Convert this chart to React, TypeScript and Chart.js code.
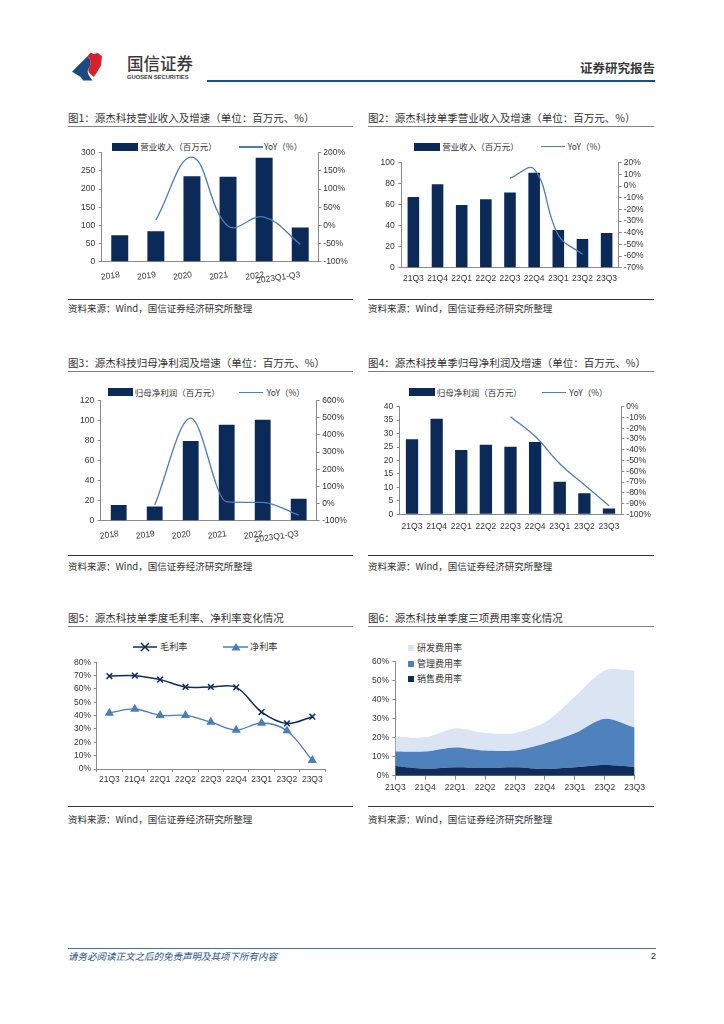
import React, { useEffect, useRef } from 'react';
import { Chart, registerables } from 'chart.js';
Chart.register(...registerables);

// ---------- data ----------
const yearLabels = ['2018', '2019', '2020', '2021', '2022', '2023Q1-Q3'];
const revenueAnnual = [73, 84, 235, 234, 286, 94];
const revenueAnnualYoY = [null, 15, 188, -2, 23, -52];

const quarterLabels = ['21Q3', '21Q4', '22Q1', '22Q2', '22Q3', '22Q4', '23Q1', '23Q2', '23Q3'];
const revenueQuarter = [67.3, 79.4, 59.7, 65.1, 71.7, 90.5, 35.9, 27.3, 33.0];
const revenueQuarterYoY = [null, null, null, null, 6.6, 14.5, -42, -58.5, null];

const profitAnnual = [15.7, 14.3, 79.7, 96, 101, 22];
const profitAnnualYoY = [null, -9, 498, 10, 7, -67];

const profitQuarter = [27.9, 35.5, 23.9, 25.9, 25.1, 26.9, 12.1, 7.8, 2.2];
const profitQuarterYoY = [null, null, null, null, -9.3, -27.5, -53, -72.5, -92];

const grossMargin = [69.7, 70, 67, 61.5, 61.5, 61.2, 42.7, 34.2, 39.2];
const netMargin = [42, 45, 40.2, 40.2, 35.2, 29.2, 34.5, 28.7, 6.5];

const sellingRate = [5.1, 3.7, 4.4, 4.0, 4.4, 3.5, 4.4, 5.6, 4.6];
const adminRate = [7.7, 9.1, 10.5, 9.2, 8.9, 13.5, 17.9, 24.4, 20.8];
const rdRate = [7.7, 7.4, 10.0, 9.3, 9.2, 11.1, 19.3, 25.4, 30.0];

// ---------- styles ----------
const CJK = '"Noto Sans CJK SC","Noto Sans",sans-serif';
const NUM = '"Liberation Sans Narrow","Liberation Sans",Arial,sans-serif';
const BAR = '#0b2a58';
const LINE = '#4a7ebb';
const NAVY = '#0f2d5c';
const AXIS = '#8a8a8a';
const TXT = '#333333';
const tickFont = { family: NUM, size: 8.5 };

const pct = (v: any) => v + '%';

function yAxis(pos: 'left' | 'right', min: number, max: number, step: number, width: number, isPct: boolean, pad = 3) {
  return {
    position: pos,
    min,
    max,
    grid: { display: true, drawOnChartArea: false, drawTicks: true, tickLength: 3, color: AXIS, tickColor: AXIS },
    border: { display: true, color: AXIS, width: 1 },
    ticks: { stepSize: step, autoSkip: false, font: tickFont, color: TXT, padding: pad, callback: isPct ? pct : (v: any) => v },
    afterFit: (s: any) => { s.width = width; },
  };
}

function xCat(height: number, opts: any = {}) {
  return {
    grid: { display: false, drawTicks: false },
    border: { display: true, color: AXIS, width: 1 },
    ticks: { font: tickFont, color: TXT, autoSkip: false, padding: 6, maxRotation: 0, minRotation: 0, ...opts },
    afterFit: (s: any) => { s.height = height; },
  };
}

function comboConfig(labels: string[], bars: number[], yoy: (number | null)[], barPct: number,
  left: any, right: any, x: any, padTop: number, mode = 'default') {
  return {
    type: 'bar',
    data: {
      labels,
      datasets: [
        { type: 'line', data: yoy, yAxisID: 'y1', borderColor: LINE, backgroundColor: LINE, borderWidth: 1.3, pointRadius: 0, tension: 0.4, cubicInterpolationMode: mode, order: 0 },
        { type: 'bar', data: bars, yAxisID: 'y', backgroundColor: BAR, categoryPercentage: 1, barPercentage: barPct, order: 1 },
      ],
    },
    options: {
      responsive: false, animation: false, devicePixelRatio: 1,
      layout: { padding: { top: padTop, left: 0, right: 0, bottom: 0 } },
      plugins: { legend: { display: false }, tooltip: { enabled: false } },
      scales: { x, y: left, y1: right },
    },
  };
}

// ---------- components ----------
function ChartBox({ left, top, width, height, make }: any) {
  const ref = useRef<HTMLCanvasElement>(null);
  useEffect(() => {
    const c = new Chart(ref.current as any, make());
    let alive = true;
    (document as any).fonts?.ready?.then(() => { if (alive) c.update(); });
    return () => { alive = false; c.destroy(); };
  }, []);
  return (
    <div style={{ position: 'absolute', left, top, width, height }}>
      <canvas ref={ref} width={width} height={height} style={{ width, height, display: 'block' }} />
    </div>
  );
}

function Txt({ x, y, size, children, color = TXT, weight = 400, italic = false, family = CJK, right = false, spacing = 0 }: any) {
  const lh = size * 1.3;
  const st: any = {
    position: 'absolute', top: y - lh / 2, fontSize: size, lineHeight: lh + 'px', height: lh,
    whiteSpace: 'nowrap', color, fontWeight: weight, fontStyle: italic ? 'italic' : 'normal', fontFamily: family,
    letterSpacing: spacing,
  };
  if (right) st.right = 724 - x; else st.left = x;
  return <div style={st}>{children}</div>;
}

function Rect({ x, y, w, h, c }: any) {
  return <div style={{ position: 'absolute', left: x, top: y, width: w, height: h, background: c }} />;
}

function BarLineLegend({ x1, x2, text1, lx, tx2, cy }: any) {
  return (
    <>
      <Rect x={x1} y={cy - 4} w={x2 - x1} h={8} c={BAR} />
      <Txt x={x2 + 2} y={cy} size={8.5}>{text1}</Txt>
      <Rect x={lx} y={cy - 0.7} w={24} h={1.4} c={LINE} />
      <Txt x={tx2} y={cy} size={8.5}>YoY（%）</Txt>
    </>
  );
}

export default function App() {
  return (
    <div style={{ position: 'absolute', left: 0, top: 0, width: 724, height: 1024, background: '#fff', overflow: 'hidden', fontFamily: CJK }}>
      {/* header */}
      <svg style={{ position: 'absolute', left: 72, top: 52 }} width={31} height={29} viewBox="0 0 30 28">
        <path d="M0,19 L15,4 C19,8 19,12 16,16 C14,19 16,23 20,27.5 L11,27.5 L8,24 Z" fill="#1b4a80" />
        <path d="M15,4 L18,0.5 L21,2 L25,1 L29,4 L28,13 L24,20 L21,24 C17,21 15,19 16,16 C19,12 19,8 15,4 Z" fill="#d7202a" />
      </svg>
      <Txt x={127} y={64} size={16.5} weight={500} color="#3a3a3a">国信证券</Txt>
      <Txt x={127} y={77.3} size={5.8} weight={700} family={NUM} color="#3a3a3a">GUOSEN SECURITIES</Txt>
      <Rect x={207} y={80} w={448} h={2} c="#1d4f80" />
      <Txt x={655} y={68.3} size={12.5} weight={700} right color="#3a3a3a">证券研究报告</Txt>

      {/* titles */}
      <Txt x={68} y={118} size={10.5}>图1：源杰科技营业收入及增速（单位：百万元、%）</Txt>
      <Txt x={368} y={118} size={10.5}>图2：源杰科技单季营业收入及增速（单位：百万元、%）</Txt>
      <Txt x={68} y={363.3} size={10.5}>图3：源杰科技归母净利润及增速（单位：百万元、%）</Txt>
      <Txt x={368} y={363.3} size={10.5}>图4：源杰科技单季归母净利润及增速（单位：百万元、%）</Txt>
      <Txt x={68} y={618.3} size={10.5}>图5：源杰科技单季度毛利率、净利率变化情况</Txt>
      <Txt x={368} y={618.3} size={10.5}>图6：源杰科技单季度三项费用率变化情况</Txt>
      {[126, 371, 626].map((y) => (
        <React.Fragment key={'t' + y}>
          <Rect x={68} y={y} w={285} h={1} c="#7f7f7f" />
          <Rect x={368} y={y} w={286} h={1} c="#7f7f7f" />
        </React.Fragment>
      ))}

      {/* sources */}
      {[[299, 308.3], [555, 566], [806, 819.3]].map(([ly, ty]) => (
        <React.Fragment key={'s' + ly}>
          <Rect x={68} y={ly} w={285} h={1} c="#333" />
          <Rect x={368} y={ly} w={286} h={1} c="#333" />
          <Txt x={68} y={ty} size={9.5}>资料来源：Wind，国信证券经济研究所整理</Txt>
          <Txt x={368} y={ty} size={9.5}>资料来源：Wind，国信证券经济研究所整理</Txt>
        </React.Fragment>
      ))}

      {/* legends */}
      <BarLineLegend x1={111.7} x2={138.3} text1="营业收入（百万元）" lx={239} tx2={264} cy={147} />
      <BarLineLegend x1={413.7} x2={440.3} text1="营业收入（百万元）" lx={541} tx2={567.7} cy={146.7} />
      <BarLineLegend x1={107.7} x2={132.7} text1="归母净利润（百万元）" lx={239} tx2={266.7} cy={392.3} />
      <BarLineLegend x1={408.7} x2={434.7} text1="归母净利润（百万元）" lx={542} tx2={569.3} cy={392.3} />

      <svg style={{ position: 'absolute', left: 133, top: 641 }} width={26} height={12}>
        <line x1={0} y1={6} x2={24} y2={6} stroke={NAVY} strokeWidth={1.5} />
        <path d="M8,2 L16,10 M16,2 L8,10" stroke={NAVY} strokeWidth={1.5} />
      </svg>
      <Txt x={160} y={646.7} size={9.2}>毛利率</Txt>
      <svg style={{ position: 'absolute', left: 223, top: 641 }} width={26} height={12}>
        <line x1={0} y1={6} x2={25} y2={6} stroke={LINE} strokeWidth={1.5} />
        <path d="M13,2 L17.5,9.5 L8.5,9.5 Z" fill={LINE} />
      </svg>
      <Txt x={250} y={646.7} size={9.2}>净利率</Txt>

      <Rect x={407.7} y={644.5} w={6} h={6} c="#dbe4f3" />
      <Txt x={417} y={647.5} size={9}>研发费用率</Txt>
      <Rect x={407.7} y={660.5} w={6} h={6} c="#4f81bd" />
      <Txt x={417} y={663.5} size={9}>管理费用率</Txt>
      <Rect x={407.7} y={676} w={6} h={6} c={NAVY} />
      <Txt x={417} y={679} size={9}>销售费用率</Txt>

      {/* charts */}
      <ChartBox left={60} top={130} width={300} height={165} make={() => comboConfig(
        yearLabels, revenueAnnual, revenueAnnualYoY, 0.47,
        yAxis('left', 0, 300, 50, 41.7, false, 3.5),
        yAxis('right', -100, 200, 50, 41.7, true, 2),
        xCat(33.3, { minRotation: 8, maxRotation: 8, padding: 8 }), 22.7)} />

      <ChartBox left={362} top={130} width={300} height={165} make={() => comboConfig(
        quarterLabels, revenueQuarter, revenueQuarterYoY, 0.48,
        yAxis('left', 0, 100, 20, 39.3, false, 3.5),
        yAxis('right', -70, 20, 10, 43.3, true, 2),
        xCat(27.3, { padding: 6 }), 32.7)} />

      <ChartBox left={60} top={375} width={300} height={175} make={() => comboConfig(
        yearLabels, profitAnnual, profitAnnualYoY, 0.44,
        yAxis('left', 0, 120, 20, 40.7, false, 3.5),
        yAxis('right', -100, 600, 100, 43.3, true, 2.5),
        xCat(29.3, { minRotation: 8, maxRotation: 8, padding: 8 }), 25.7, 'monotone')} />

      <ChartBox left={362} top={375} width={300} height={175} make={() => comboConfig(
        quarterLabels, profitQuarter, profitQuarterYoY, 0.5,
        yAxis('left', 0, 40, 5, 37.7, false, 3.5),
        yAxis('right', -100, 0, 10, 40.7, true, 2),
        xCat(35.7, { padding: 7 }), 31.7)} />

      <ChartBox left={60} top={630} width={300} height={170} make={() => ({
        type: 'line',
        data: {
          labels: quarterLabels,
          datasets: [
            { data: grossMargin, borderColor: NAVY, backgroundColor: NAVY, borderWidth: 1.5, tension: 0.35, pointStyle: 'crossRot', pointRadius: 4, pointBorderWidth: 1.5, pointBorderColor: NAVY },
            { data: netMargin, borderColor: LINE, backgroundColor: LINE, borderWidth: 1.3, tension: 0.35, pointStyle: 'triangle', pointRadius: 4, pointBackgroundColor: LINE, pointBorderColor: LINE },
          ],
        },
        options: {
          responsive: false, animation: false, devicePixelRatio: 1,
          layout: { padding: { top: 32.3, left: 0, right: 35, bottom: 0 } },
          plugins: { legend: { display: false }, tooltip: { enabled: false } },
          scales: {
            x: {
              offset: true,
              grid: { display: true, offset: true, drawOnChartArea: false, drawTicks: true, tickLength: 3, color: AXIS },
              border: { display: true, color: AXIS },
              ticks: { font: tickFont, color: TXT, autoSkip: false, maxRotation: 0, padding: 3 },
              afterFit: (s: any) => { s.height = 31; },
            },
            y: yAxis('left', 0, 80, 10, 36.7, true, 2.7),
          },
        },
      })} />

      <ChartBox left={362} top={630} width={300} height={170} make={() => ({
        type: 'line',
        data: {
          labels: quarterLabels,
          datasets: [
            { data: sellingRate, fill: 'origin', backgroundColor: NAVY, borderWidth: 0, pointRadius: 0, tension: 0.3 },
            { data: adminRate, fill: '-1', backgroundColor: '#4f81bd', borderWidth: 0, pointRadius: 0, tension: 0.3 },
            { data: rdRate, fill: '-1', backgroundColor: '#dbe4f3', borderWidth: 0, pointRadius: 0, tension: 0.3 },
          ],
        },
        options: {
          responsive: false, animation: false, devicePixelRatio: 1,
          layout: { padding: { top: 31.7, left: 0, right: 27.3, bottom: 0 } },
          plugins: { legend: { display: false }, tooltip: { enabled: false } },
          scales: {
            x: {
              offset: false,
              grid: { display: true, drawOnChartArea: false, drawTicks: true, tickLength: 4, color: AXIS },
              border: { display: true, color: AXIS },
              ticks: { font: tickFont, color: TXT, autoSkip: false, maxRotation: 0, padding: 3 },
              afterFit: (s: any) => { s.height = 24.3; },
            },
            y: { ...yAxis('left', 0, 60, 10, 33.3, true, 3.3), stacked: true },
          },
        },
      })} />

      {/* footer */}
      <Rect x={68} y={948} w={588} h={1} c="#3a6ea5" />
      <Txt x={68} y={956.5} size={9.5} italic color="#1f4f8f">请务必阅读正文之后的免责声明及其项下所有内容</Txt>
      <Txt x={656} y={956.5} size={9.5} right family={NUM} color="#222">2</Txt>
    </div>
  );
}
